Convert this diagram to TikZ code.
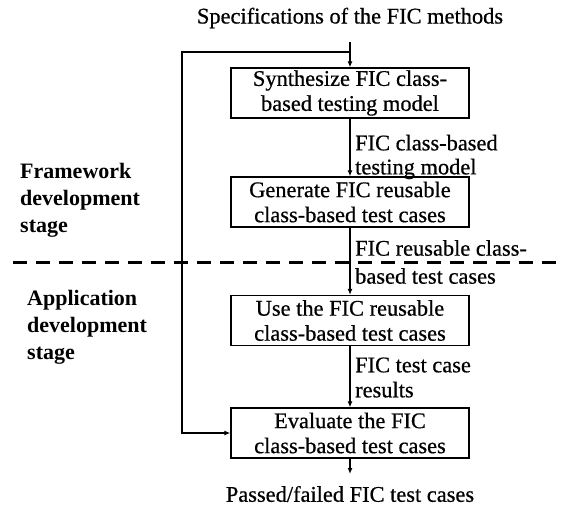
\documentclass[tikz,border=0pt]{standalone}
\usepackage{fontspec}
\setmainfont{Liberation Serif}
\newfontfamily\heavyserif[FakeBold=0.6]{Liberation Serif}
\usetikzlibrary{arrows.meta}
\begin{document}
\begin{tikzpicture}[x=1pt,y=-1pt,
  box/.style={draw, line width=1.3pt, minimum width=238pt, minimum height=50pt, inner sep=0pt, align=center, font=\heavyserif\fontsize{22.4}{25}\selectfont},
  lbl/.style={anchor=west, align=left, inner sep=0pt, font=\heavyserif\fontsize{22.4}{#1}\selectfont},
  txt/.style={inner sep=0pt, font=\heavyserif\fontsize{22.4}{25}\selectfont},
  stage/.style={anchor=north west, align=left, inner sep=0pt, font=\bfseries\fontsize{22}{27}\selectfont},
  flow/.style={line width=1.2pt, -{Latex[length=6pt,width=5pt]}},
  divider/.style={line width=3pt, dash pattern=on 14pt off 9pt}]
\useasboundingbox (0,0) rectangle (567,506);
\node[txt] (spec) at (350,18) {Specifications of the FIC methods};
\node[box] (b1) at (350,93) {Synthesize FIC class-\\based testing model};
\node[box] (b2) at (350,202) {Generate FIC reusable\\class-based test cases};
\node[box] (b3) at (350,320.5) {Use the FIC reusable\\class-based test cases};
\node[box] (b4) at (350,433) {Evaluate the FIC\\class-based test cases};
\node[txt] (out) at (350,494) {Passed/failed FIC test cases};
\coordinate (s0) at (350,42);
\coordinate (j) at (350,52);
\coordinate (c2) at (182,433);
\coordinate (oe) at (350,474);
\coordinate (d1) at (13,262);
\coordinate (d2) at (563,262);
\draw[flow] (s0) -- (b1.north);
\draw[flow] (j) -| (c2) -- (b4.west);
\draw[flow] (b1.south) -- (b2.north);
\draw[flow] (b2.south) -- (b3.north);
\draw[flow] (b3.south) -- (b4.north);
\draw[flow] (b4.south) -- (oe);
\draw[divider] (d1) -- (d2);
\node[lbl=24] (l1) at (355,157) {FIC class-based\\testing model};
\node[lbl=28] (l2) at (355,262) {FIC reusable class-\\based test cases};
\node[lbl=25] (l3) at (355,377.5) {FIC test case\\results};
\node[stage] (fw) at (20,163) {Framework\\development\\stage};
\node[stage] (ap) at (27,290) {Application\\development\\stage};
\end{tikzpicture}
\end{document}
